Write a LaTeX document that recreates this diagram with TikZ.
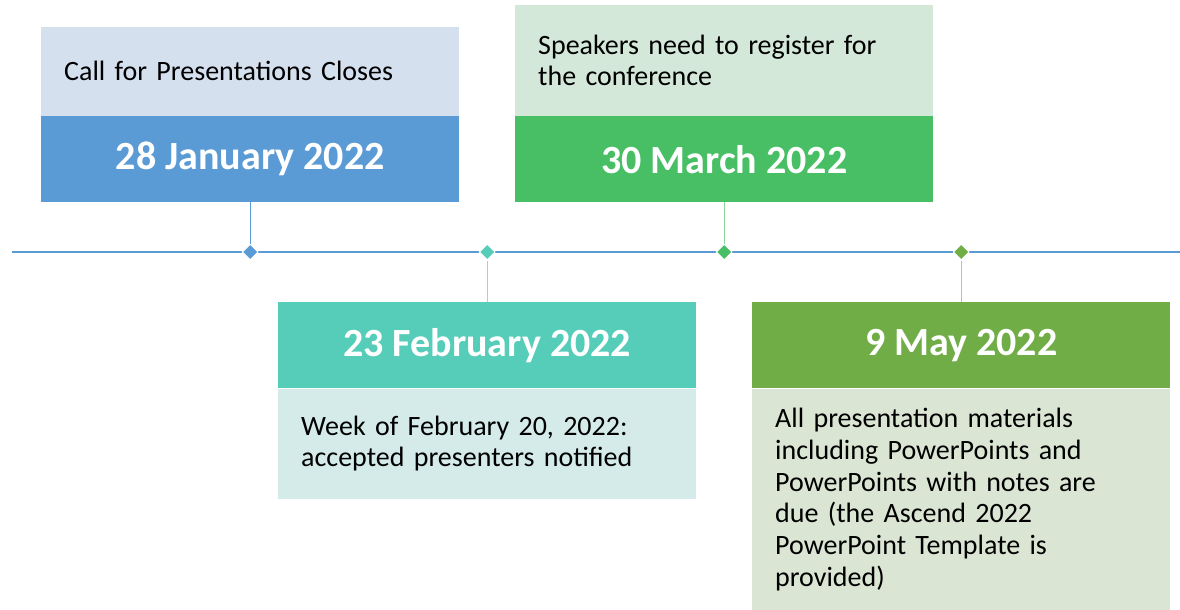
\documentclass[tikz,border=0pt]{standalone}
\usepackage{fontspec}
\setmainfont{Carlito}
\usetikzlibrary{positioning,shapes.geometric}
\definecolor{janblue}{HTML}{5B9BD5}
\definecolor{janpale}{HTML}{D5E0EF}
\definecolor{febteal}{HTML}{55CDB9}
\definecolor{febpale}{HTML}{D4EBEA}
\definecolor{febstem}{HTML}{8FDDD0}
\definecolor{margreen}{HTML}{48BF64}
\definecolor{marpale}{HTML}{D4E8DA}
\definecolor{marstem}{HTML}{8ED69E}
\definecolor{mayolive}{HTML}{70AD47}
\definecolor{maypale}{HTML}{DBE5D4}
\definecolor{maystem}{HTML}{A9CF8E}
\begin{document}
\begin{tikzpicture}[x=1pt,y=-1pt,
  date/.style={minimum width=418pt,minimum height=86pt,inner sep=0pt,
    text=white,font=\fontsize{40}{44}\selectfont\bfseries},
  note/.style={minimum width=418pt,inner sep=0pt,text width=372pt,
    align=left,font=\fontsize{28}{31.7}\selectfont},
  gem/.style={diamond,minimum size=16pt,inner sep=0pt,draw=white,line width=1pt}]
  \useasboundingbox (0,0) rectangle (1180,610);
  % timeline
  \coordinate (lstart) at (12,252);
  \coordinate (lend) at (1180,252);
  \draw[janblue,line width=1.3pt] (lstart)--(lend);
  % dates above the line
  \node[date,fill=janblue,anchor=north west] (jan) at (41,116) {28 January 2022};
  \node[note,fill=janpale,minimum height=89pt,above=0pt of jan] (jannote)
    {Call for Presentations Closes};
  \node[date,fill=margreen,anchor=north west] (mar) at (515,116) {30 March 2022};
  \node[note,fill=marpale,minimum height=111pt,above=0pt of mar] (marnote)
    {Speakers need to register for\\the conference};
  % dates below the line
  \node[date,fill=febteal,anchor=north west] (feb) at (278,302) {23 February 2022};
  \node[note,fill=febpale,minimum height=110pt,below=0pt of feb] (febnote)
    {Week of February 20, 2022:\\accepted presenters notified};
  \node[date,fill=mayolive,anchor=north west] (may) at (752,302) {9 May 2022};
  \node[note,fill=maypale,minimum height=222pt,below=0pt of may] (maynote)
    {All presentation materials\\including PowerPoints and\\PowerPoints with notes are\\due (the Ascend 2022\\PowerPoint Template is\\provided)};
  % markers and stems
  \node[gem,fill=janblue] (d1) at (jan.center |- lstart) {};
  \node[gem,fill=febteal] (d2) at (feb.center |- lstart) {};
  \node[gem,fill=margreen] (d3) at (mar.center |- lstart) {};
  \node[gem,fill=mayolive] (d4) at (may.center |- lstart) {};
  \draw[janblue,line width=1.3pt] (jan)--(d1);
  \draw[febstem,line width=1.3pt] (feb)--(d2);
  \draw[marstem,line width=1.3pt] (mar)--(d3);
  \draw[maystem,line width=1.3pt] (may)--(d4);
\end{tikzpicture}
\end{document}
